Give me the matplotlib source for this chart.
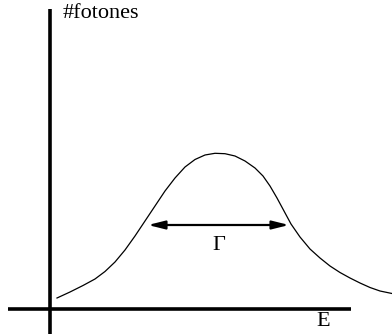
import matplotlib
matplotlib.use('Agg')
import numpy as np
import matplotlib.pyplot as plt

# photon count spectrum (energy, counts), arbitrary units
energy = [7, 20, 33, 45, 55, 65, 75, 85, 95, 105, 115, 125, 135, 145, 155,
          165, 175, 185, 195, 205, 213, 220, 227, 234, 241, 250, 260, 270,
          280, 290, 300, 310, 320, 330, 342]
counts = [11, 17, 23.5, 30, 37.5, 47, 59, 73, 88, 103, 118, 131, 142, 149.5,
          154, 155.7, 155.3, 153, 148, 141, 133, 123, 111, 98, 85, 72, 60, 51,
          43, 36.5, 31, 26, 21.5, 18, 15.5]

# width marker
gamma_left = 98
gamma_right = 239
gamma_level = 84

plt.rcParams['font.family'] = ['Liberation Serif', 'DejaVu Serif']

fig = plt.figure(figsize=(3.92, 3.34), dpi=100)
ax = fig.add_axes([0, 0, 1, 1])
ax.set_xlim(-50, 342)
ax.set_ylim(-25, 309)
ax.axis('off')

# axes drawn by hand
ax.plot([0, 0], [-25, 300], color='black', lw=2.6, solid_capstyle='butt')
ax.plot([-42, 301], [0, 0], color='black', lw=2.6, solid_capstyle='butt')

ax.plot(energy, counts, color='black', lw=0.9, solid_joinstyle='round')

ax.annotate('', xy=(gamma_left, gamma_level), xytext=(gamma_right, gamma_level),
            arrowprops=dict(arrowstyle='<|-|>,head_length=1.0,head_width=0.25',
                            mutation_scale=10, color='black', lw=1.6,
                            shrinkA=0, shrinkB=0))
ax.text((gamma_left + gamma_right) / 2, 64, 'Γ', fontsize=16,
        ha='center', va='center')

ax.text(13, 296, '#fotones', fontsize=16, ha='left', va='center')
ax.text(273, -13, 'E', fontsize=16, ha='center', va='center')

plt.savefig('out.png', dpi=100)
